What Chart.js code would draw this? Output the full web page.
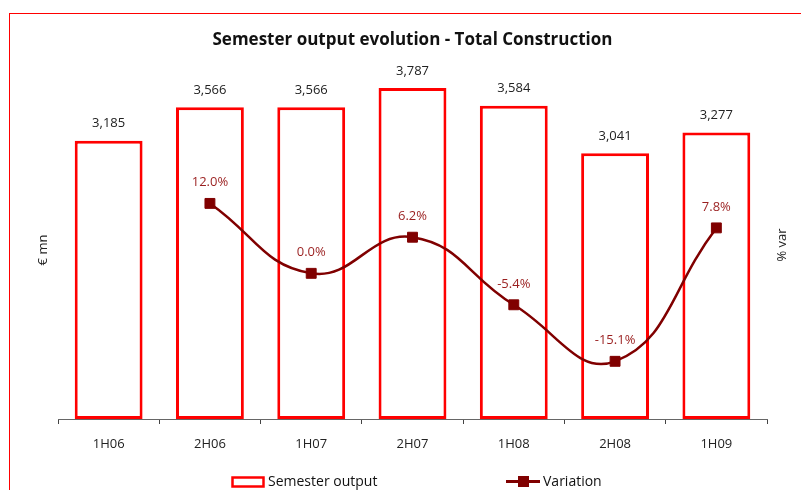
<!DOCTYPE html>
<html lang="en">
<head>
  <meta charset="UTF-8" />
  <title>Semester output evolution - Total Construction</title>
  <script src="https://cdn.jsdelivr.net/npm/chart.js"></script>
  <style>
    html, body { margin: 0; padding: 0; background: #fff; overflow: hidden; }
  </style>
</head>
<body>
  <canvas id="outputChart" width="801" height="490"></canvas>

  <script>
    // Chart data
    const semesters = ['1H06', '2H06', '1H07', '2H07', '1H08', '2H08', '1H09'];
    const semesterOutput = [3185, 3566, 3566, 3787, 3584, 3041, 3277];
    const variationPct = [null, 12.0, 0.0, 6.2, -5.4, -15.1, 7.8];

    const FONT = '"Open Sans", "DejaVu Sans", sans-serif';
    Chart.defaults.font.family = FONT;

    // Frame, axis titles, value labels and legend
    const extrasPlugin = {
      id: 'extras',
      beforeDraw(chart) {
        const ctx = chart.ctx;
        ctx.save();
        ctx.strokeStyle = '#ff0000';
        ctx.lineWidth = 1;
        ctx.strokeRect(9.5, 13.5, 1000, 1000);
        ctx.restore();
      },
      afterDatasetsDraw(chart) {
        const ctx = chart.ctx;
        ctx.save();
        ctx.textAlign = 'center';
        ctx.textBaseline = 'middle';

        // bar labels
        ctx.font = '13px ' + FONT;
        ctx.fillStyle = '#222';
        chart.getDatasetMeta(1).data.forEach((el, i) => {
          ctx.fillText(semesterOutput[i].toLocaleString('en-US'), el.x, el.y - 17);
        });

        // variation labels
        ctx.font = '13px ' + FONT;
        ctx.fillStyle = '#9a1f1f';
        chart.getDatasetMeta(0).data.forEach((el, i) => {
          if (variationPct[i] === null) return;
          ctx.fillText(variationPct[i].toFixed(1) + '%', el.x, el.y - 21);
        });

        // axis titles
        ctx.font = '13px ' + FONT;
        ctx.fillStyle = '#222';
        ctx.save();
        ctx.translate(43, 250);
        ctx.rotate(-Math.PI / 2);
        ctx.fillText('€ mn', 0, 0);
        ctx.restore();
        ctx.save();
        ctx.translate(782, 245);
        ctx.rotate(-Math.PI / 2);
        ctx.fillText('% var', 0, 0);
        ctx.restore();

        // legend
        ctx.textAlign = 'left';
        ctx.font = '14px ' + FONT;
        ctx.fillStyle = '#111';
        ctx.strokeStyle = '#ff0000';
        ctx.lineWidth = 2.5;
        ctx.strokeRect(232.5, 477.5, 31, 9);
        ctx.fillText('Semester output', 268, 482);

        ctx.strokeStyle = '#800000';
        ctx.lineWidth = 3;
        ctx.beginPath();
        ctx.moveTo(506, 481.5);
        ctx.lineTo(540, 481.5);
        ctx.stroke();
        ctx.fillStyle = '#800000';
        ctx.fillRect(518, 476, 11, 11);
        ctx.fillStyle = '#111';
        ctx.fillText('Variation', 543, 482);
        ctx.restore();
      }
    };

    const ctx = document.getElementById('outputChart').getContext('2d');
    const outputChart = new Chart(ctx, {
      type: 'bar',
      data: {
        labels: semesters,
        datasets: [
          {
            type: 'line',
            label: 'Variation',
            data: variationPct,
            yAxisID: 'y1',
            order: 0,
            borderColor: '#800000',
            borderWidth: 2.5,
            tension: 0.45,
            pointStyle: 'rect',
            pointRadius: 7,
            pointBorderWidth: 1,
            pointBackgroundColor: '#800000',
            pointBorderColor: '#800000'
          },
          {
            label: 'Semester output',
            data: semesterOutput,
            yAxisID: 'y',
            order: 1,
            backgroundColor: '#ffffff',
            borderColor: '#ff0000',
            borderWidth: 3,
            borderSkipped: false,
            barPercentage: 0.67,
            categoryPercentage: 1
          }
        ]
      },
      options: {
        responsive: false,
        animation: false,
        devicePixelRatio: 1,
        layout: { padding: { left: 58, right: 34, top: 0, bottom: 41 } },
        plugins: {
          legend: { display: false },
          tooltip: { enabled: false },
          title: {
            display: true,
            text: 'Semester output evolution - Total Construction',
            color: '#111',
            font: { size: 17, weight: 'bold' },
            padding: { top: 30, bottom: 19 }
          }
        },
        scales: {
          x: {
            offset: true,
            grid: { display: true, offset: true, drawOnChartArea: false, drawTicks: true, tickLength: 5, color: '#444' },
            border: { display: true, color: '#666', width: 1 },
            ticks: { color: '#222', font: { size: 13 }, padding: 12 },
            afterFit(scale) { scale.height = 30; }
          },
          y: { display: false, min: 0, max: 4000 },
          y1: { display: false, position: 'right', min: -25, max: 35 }
        }
      },
      plugins: [extrasPlugin]
    });
  </script>
</body>
</html>
